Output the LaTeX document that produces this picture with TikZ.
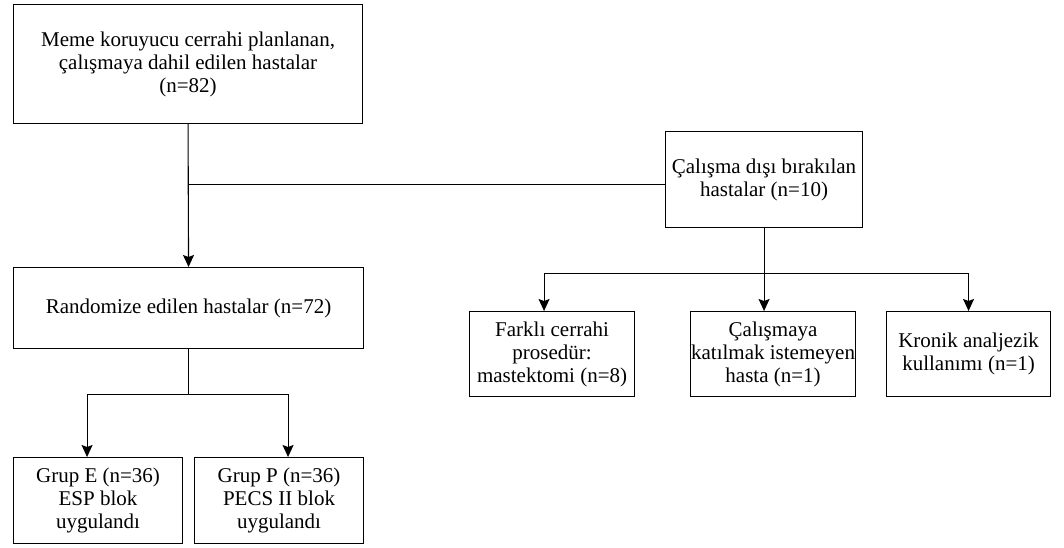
\documentclass[tikz,border=0pt]{standalone}
\usepackage{fontspec}
\setmainfont{Liberation Serif}
\newfontfamily\flowfont{Liberation Serif}
\usetikzlibrary{arrows.meta,positioning,calc}

\begin{document}
\begin{tikzpicture}[x=1pt,y=-1pt,
  every node/.style={font=\flowfont\fontsize{21}{23}\selectfont},
  box/.style={draw, line width=1.1pt, align=center, inner sep=0pt, anchor=north west},
  conn/.style={line width=1.1pt},
  arr/.style={conn, -{Stealth[length=12pt,width=11pt,inset=2pt]}}]
\useasboundingbox (0,0) rectangle (1064,548);

% left column
\node[box, minimum width=349pt, minimum height=119pt] (incl) at (13,4)
  {Meme koruyucu cerrahi planlanan,\\ çalışmaya dahil edilen hastalar\\ (n=82)};
\node[box, minimum width=350pt, minimum height=81pt] (rand) at (13,267)
  {Randomize edilen hastalar (n=72)};
\node[box, minimum width=169pt, minimum height=86pt] (grpE) at (13,457)
  {Grup E (n=36)\\ ESP blok\\ uygulandı};
\node[box, minimum width=169pt, minimum height=86pt] (grpP) at (194,457)
  {Grup P (n=36)\\ PECS II blok\\ uygulandı};

% excluded patients
\node[box, minimum width=197pt, minimum height=96pt] (excl) at (665,131)
  {Çalışma dışı bırakılan\\ hastalar (n=10)};
\node[box, minimum width=165pt, minimum height=85pt] (surg) at (469,311)
  {Farklı cerrahi\\ prosedür:\\ mastektomi (n=8)};
\node[box, minimum width=165pt, minimum height=85pt] (refuse) at (690,311)
  {Çalışmaya\\ katılmak istemeyen\\ hasta (n=1)};
\node[box, minimum width=164pt, minimum height=85pt] (chron) at (886,311)
  {Kronik analjezik\\ kullanımı (n=1)};

% connectors
\draw[arr] (incl.south) -- (rand.north);
\coordinate (split) at ($(incl.south)!0.42!(rand.north)$);
\draw[conn] (split) -- (split -| excl.west);

\coordinate (exbar) at ($(excl.south)+(0,45)$);
\coordinate (surgin) at ($(surg.north)+(-8,0)$);
\draw[arr] (excl.south) -- (excl.south |- refuse.north);
\draw[arr] (exbar -| chron.north) -- (exbar -| surgin) -- (surgin);
\draw[arr] (exbar -| surgin) -- (exbar -| chron.north) -- (chron.north);

\coordinate (rbar) at ($(rand.south)+(0,45)$);
\coordinate (ein) at ($(grpE.north)+(-11,0)$);
\coordinate (pin) at ($(grpP.north)+(9,0)$);
\draw[conn] (rand.south) -- (rbar);
\draw[arr] (rbar) -- (rbar -| ein) -- (ein);
\draw[arr] (rbar) -- (rbar -| pin) -- (pin);
\end{tikzpicture}
\end{document}
